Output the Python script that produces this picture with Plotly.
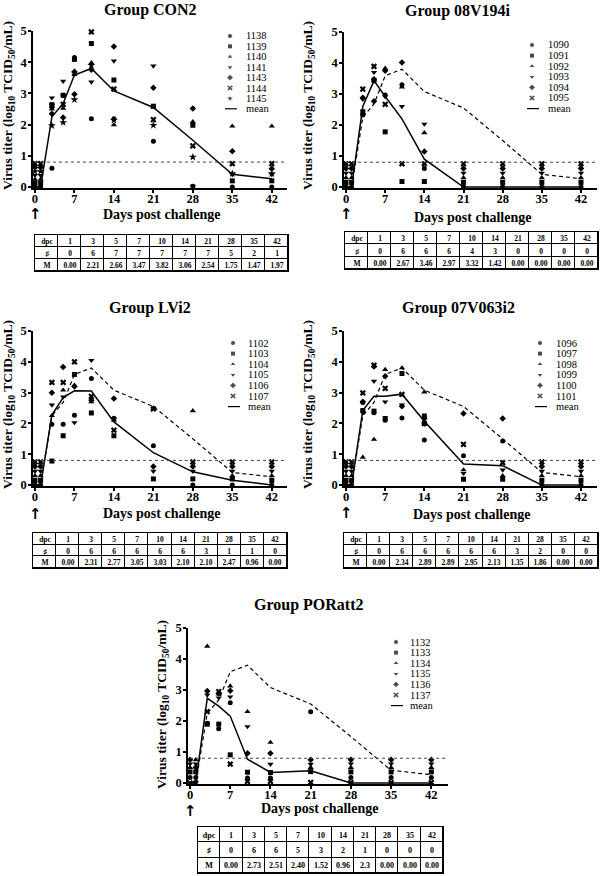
import plotly.graph_objects as go

W, H = 600, 876

# ---------------- data ----------------
DAYS = [0, 1, 3, 5, 7, 10, 14, 21, 28, 35, 42]
XTICKS = [0, 7, 14, 21, 28, 35, 42]
YTICKS = [0, 1, 2, 3, 4, 5]
LOD = 0.8
DPC = [1, 3, 5, 7, 10, 14, 21, 28, 35, 42]
ROW_LABELS = ["dpc", "\u266f", "M"]

con2_ids = ["1138", "1139", "1140", "1141", "1143", "1144", "1145"]
con2_vals = [
    [0, 0, 0.6, 2.94, 4.15, 2.19, 2.19, 1.47, 0.03, 0, 0],
    [0.125, 0.125, 2.64, 2.94, 4.09, 4.6, 3.43, 2.59, 1.98, 0.2, 0.2],
    [0.25, 0.25, 2.5, 2.52, 3.72, 3.98, 1.99, 2.56, 2.09, 1.95, 1.95],
    [0.375, 0.375, 2.86, 3.39, 3.66, 3.37, 4.04, 3.88, 0.03, 0.4, 0.4],
    [0.625, 0.625, 2.35, 2.23, 2.97, 3.76, 4.5, 3.18, 2.52, 1.15, 0.59],
    [0.75, 0.75, 2.6, 2.65, 3.64, 4.97, 3.14, 2.16, 1.32, 0.75, 0.75],
    [0.5, 0.5, 1.97, 2.07, 2.8, 3.9, 2.14, 1.98, 0.96, 0.43, 0.43],
]
con2_mean = [0, 0, 2.25, 2.68, 3.59, 3.80, 3.08, 2.55, 1.50, 0.41, 0.27]
con2_npos = [0, 6, 7, 7, 7, 7, 7, 5, 2, 1]
con2_M = ["0.00", "2.21", "2.66", "3.47", "3.82", "3.06", "2.54", "1.75", "1.47", "1.97"]

g08_ids = ["1090", "1091", "1092", "1093", "1094", "1095"]
g08_vals = [
    [0, 0, 2.32, 3.42, 2.97, 3.3, 0.6, 0, 0, 0, 0],
    [0.15, 0.15, 2.43, 3.45, 1.78, 0.18, 0.18, 0.15, 0.15, 0.15, 0.15],
    [0.3, 0.3, 2.37, 3.5, 3.83, 3.22, 1.75, 0.3, 0.3, 0.3, 0.3],
    [0.45, 0.45, 2.83, 3.7, 2.92, 2.6, 2.03, 0.45, 0.45, 0.45, 0.45],
    [0.6, 0.6, 2.88, 2.77, 3.75, 4.02, 1.15, 0.6, 0.6, 0.6, 0.6],
    [0.75, 0.75, 3.16, 3.89, 2.67, 0.75, 0.75, 0.75, 0.75, 0.75, 0.75],
]
g08_mean = [0, 0, 2.6, 3.43, 2.92, 2.2, 0.9, 0, 0, 0, 0]
g08_npos = [0, 6, 6, 6, 4, 3, 0, 0, 0, 0]
g08_M = ["0.00", "2.67", "3.46", "2.97", "3.32", "1.42", "0.00", "0.00", "0.00", "0.00"]

lvi_ids = ["1102", "1103", "1104", "1105", "1106", "1107"]
lvi_vals = [
    [0, 0, 1.97, 1.97, 2.27, 3.46, 2.17, 1.28, 0, 0, 0],
    [0.15, 0.15, 0.78, 1.6, 3.59, 2.34, 1.6, 0.2, 0.2, 0.2, 0.15],
    [0.3, 0.3, 2.25, 3.08, 3.24, 2.7, 2.1, 2.5, 2.41, 0.3, 0.3],
    [0.45, 0.45, 2.6, 2.86, 2.03, 4.05, 2.15, 0.45, 0.45, 0.45, 0.45],
    [0.6, 0.6, 3.0, 3.83, 3.2, 2.75, 2.81, 0.6, 0.6, 0.6, 0.6],
    [0.75, 0.75, 3.33, 3.33, 4.0, 2.88, 1.78, 2.47, 0.75, 0.75, 0.75],
]
lvi_mean = [0, 0, 2.27, 2.84, 3.06, 3.05, 2.05, 1.05, 0.43, 0.16, 0]
lvi_npos = [0, 6, 6, 6, 6, 6, 3, 1, 1, 0]
lvi_M = ["0.00", "2.31", "2.77", "3.05", "3.03", "2.10", "2.10", "2.47", "0.96", "0.00"]

g07_ids = ["1096", "1097", "1098", "1099", "1100", "1101"]
g07_vals = [
    [0, 0, 2.68, 2.35, 2.1, 2.18, 1.46, 0.95, 1.43, 0, 0],
    [0.15, 0.15, 2.42, 2.4, 2.16, 3.62, 2.24, 0.19, 0.19, 0.15, 0.15],
    [0.3, 0.3, 0.9, 1.48, 3.75, 3.8, 3.02, 0.49, 0.3, 0.3, 0.3],
    [0.45, 0.45, 2.35, 3.37, 2.7, 2.6, 1.97, 0.38, 0.49, 0.45, 0.45],
    [0.6, 0.6, 2.7, 3.85, 3.53, 2.56, 2.16, 2.32, 2.16, 0.6, 0.6],
    [0.75, 0.75, 2.99, 3.89, 3.14, 2.94, 2.0, 1.32, 0.73, 0.75, 0.75],
]
g07_mean = [0, 0, 2.43, 2.88, 2.88, 2.95, 2.07, 0.68, 0.63, 0, 0]
g07_npos = [0, 6, 6, 6, 6, 6, 3, 2, 0, 0]
g07_M = ["0.00", "2.34", "2.89", "2.89", "2.95", "2.13", "1.35", "1.86", "0.00", "0.00"]

por_ids = ["1132", "1133", "1134", "1135", "1136", "1137"]
por_vals = [
    [0.18, 0.18, 1.93, 1.75, 2.59, 0.16, 0.16, 2.3, 0.18, 0.18, 0.18],
    [0.36, 0.36, 1.9, 1.9, 0.91, 0.35, 0.34, 0.37, 0.36, 0.36, 0.36],
    [0.5, 0.75, 4.41, 2.87, 3.13, 2.3, 1.31, 0.5, 0.5, 0.5, 0.5],
    [0.62, 0.62, 2.84, 2.75, 2.78, 1.82, 0.61, 0.61, 0.62, 0.62, 0.62],
    [0.75, 0.5, 2.97, 2.9, 2.98, 0.96, 0.96, 0.75, 0.75, 0.75, 0.75],
    [0, 0, 2.3, 2.95, 0.61, 0.05, 0.05, 0.02, 0.02, 0.02, 0.02],
]
por_mean = [0, 0, 2.73, 2.48, 2.16, 0.77, 0.34, 0.40, 0, 0, 0]
por_npos = [0, 6, 6, 5, 3, 2, 1, 0, 0, 0]
por_M = ["0.00", "2.73", "2.51", "2.40", "1.52", "0.96", "2.3", "0.00", "0.00", "0.00"]

# ---------------- styles / layout ----------------
SYMBOLS = ["circle", "square", "triangle-up", "triangle-down", "diamond", "x", "star"]
SIZES = [5, 5, 5.5, 5.5, 5, 5.5, 6]
SERIF = "Liberation Serif"

# positions below are page pixels of the 600x876 window
panels = [
    dict(title="Group CON2", ids=con2_ids, vals=con2_vals, mean=con2_mean, npos=con2_npos, M=con2_M, ref=False,
         xdom=(33, 287), xr=(-0.35, 44.7), ydom=(31, 188), tpos=(150, 10), ytp=(9, 106), xtp=(161, 214),
         arrow=(35, 214), leg=(230, 244, 36, 10.4), tab=(35, 288, 235, 271, 7.5)),
    dict(title="Group 08V194i", ids=g08_ids, vals=g08_vals, mean=g08_mean, npos=g08_npos, M=g08_M, ref=True,
         xdom=(344, 597), xr=(-0.36, 44.86), ydom=(32, 188), tpos=(458, 11), ytp=(309, 106), xtp=(472, 217),
         arrow=(346, 214), leg=(532, 546, 45, 10.6), tab=(345, 598, 232, 269, 7.5)),
    dict(title="Group LVi2", ids=lvi_ids, vals=lvi_vals, mean=lvi_mean, npos=lvi_npos, M=lvi_M, ref=True,
         xdom=(33, 287), xr=(-0.35, 44.7), ydom=(331, 486), tpos=(150, 308), ytp=(9, 405), xtp=(161, 513),
         arrow=(35, 514), leg=(233, 246, 343, 10.6), tab=(33, 287, 533, 568, 7.5)),
    dict(title="Group 07V063i2", ids=g07_ids, vals=g07_vals, mean=g07_mean, npos=g07_npos, M=g07_M, ref=True,
         xdom=(344, 597), xr=(-0.36, 44.86), ydom=(331, 486), tpos=(458, 308), ytp=(309, 405), xtp=(471, 514),
         arrow=(346, 513), leg=(540, 554, 343, 10.6), tab=(344, 598, 533, 568, 7.5)),
    dict(title="Group PORatt2", ids=por_ids, vals=por_vals, mean=por_mean, npos=por_npos, M=por_M, ref=True,
         xdom=(188, 448), xr=(-0.35, 44.9), ydom=(628, 784), tpos=(308, 605), ytp=(162, 705), xtp=(319, 808),
         arrow=(190, 811), leg=(396, 408, 642, 10.6), tab=(198, 443, 827, 873, 8)),
]
YR = (-0.03, 5.0)


def px_x(px):
    return min(1.0, max(0.0, px / W))


def px_y(py):
    return min(1.0, max(0.0, 1 - py / H))


fig = go.Figure()
annotations = []
shapes = []
layout_axes = {}
NP = len(panels)

for i, p in enumerate(panels):
    k = "" if i == 0 else str(i + 1)
    xa, ya = "x" + k, "y" + k
    x0, x1 = p["xdom"]
    y0, y1 = p["ydom"]
    axis_common = dict(showgrid=False, zeroline=False, showline=True, linecolor="black", linewidth=1.5,
                       ticks="outside", ticklen=3, tickwidth=1.5, tickcolor="black", automargin=False,
                       tickfont=dict(family=SERIF, size=12.5, color="black", weight="bold"))
    layout_axes["xaxis" + k] = dict(domain=[px_x(x0), px_x(x1)], range=list(p["xr"]), anchor=ya,
                                    tickvals=XTICKS, ticktext=[str(t) for t in XTICKS],
                                    ticklabelstandoff=-5, **axis_common)
    layout_axes["yaxis" + k] = dict(domain=[px_y(y1), px_y(y0)], range=list(YR), anchor=xa,
                                    tickvals=YTICKS, ticklabelstandoff=-1, **axis_common)

    def dx(px, p=p):
        a, b = p["xdom"]
        r0, r1 = p["xr"]
        return r0 + (px - a) * (r1 - r0) / (b - a)

    def dy(py, p=p):
        a, b = p["ydom"]
        return YR[1] - (py - a) * (YR[1] - YR[0]) / (b - a)

    # detection limit
    shapes.append(dict(type="line", xref=xa, yref=ya, x0=0, x1=p["xr"][1], y0=LOD, y1=LOD,
                       line=dict(color="#444", width=1, dash="dot")))
    # reference mean (CON2)
    if p["ref"]:
        fig.add_trace(go.Scatter(x=DAYS, y=con2_mean, mode="lines", xaxis=xa, yaxis=ya,
                                 line=dict(color="black", width=1.2, dash="4px,3px"), showlegend=False,
                                 cliponaxis=False, hoverinfo="skip"))
    # group mean
    fig.add_trace(go.Scatter(x=DAYS, y=p["mean"], mode="lines", xaxis=xa, yaxis=ya,
                             line=dict(color="black", width=1.5), showlegend=False, cliponaxis=False))
    # individual animals
    for j, (aid, v) in enumerate(zip(p["ids"], p["vals"])):
        fig.add_trace(go.Scatter(x=DAYS, y=v, mode="markers", xaxis=xa, yaxis=ya, name=aid,
                                 marker=dict(symbol=SYMBOLS[j], size=SIZES[j], color="black",
                                             line=dict(width=0, color="black")),
                                 showlegend=False, cliponaxis=False))
    # manual legend
    mx, tx, ly0, step = p["leg"]
    n = len(p["ids"])
    fig.add_trace(go.Scatter(x=[dx(mx)] * n, y=[dy(ly0 + step * j) for j in range(n)], mode="markers",
                             xaxis=xa, yaxis=ya, showlegend=False, cliponaxis=False, hoverinfo="skip",
                             marker=dict(symbol=SYMBOLS[:n], size=SIZES[:n], color="black")))
    for j, aid in enumerate(p["ids"]):
        annotations.append(dict(x=px_x(tx), y=px_y(ly0 + step * j), xref="paper", yref="paper", text=aid,
                                showarrow=False, xanchor="left", yanchor="middle",
                                font=dict(family=SERIF, size=10.5, color="black")))
    ym = ly0 + step * n
    shapes.append(dict(type="line", xref="paper", yref="paper", x0=px_x(mx - 5), x1=px_x(mx + 7),
                       y0=px_y(ym), y1=px_y(ym), line=dict(color="black", width=1.2)))
    annotations.append(dict(x=px_x(tx), y=px_y(ym), xref="paper", yref="paper", text="mean",
                            showarrow=False, xanchor="left", yanchor="middle",
                            font=dict(family=SERIF, size=10.5, color="black")))
    # titles
    annotations.append(dict(x=px_x(p["tpos"][0]), y=px_y(p["tpos"][1]), xref="paper", yref="paper",
                            text=p["title"], showarrow=False, xanchor="center", yanchor="middle",
                            font=dict(family=SERIF, size=16, color="black", weight="bold")))
    annotations.append(dict(x=px_x(p["ytp"][0]), y=px_y(p["ytp"][1]), xref="paper", yref="paper",
                            text="Virus titer (log<sub>10</sub> TCID<sub>50</sub>/mL)", textangle=-90,
                            showarrow=False, xanchor="center", yanchor="middle",
                            font=dict(family=SERIF, size=13.5, color="black", weight="bold")))
    annotations.append(dict(x=px_x(p["xtp"][0]), y=px_y(p["xtp"][1]), xref="paper", yref="paper",
                            text="Days post challenge", showarrow=False, xanchor="center", yanchor="middle",
                            font=dict(family=SERIF, size=14, color="black", weight="bold")))
    # challenge arrow
    annotations.append(dict(x=px_x(p["arrow"][0]), y=px_y(p["arrow"][1]), xref="paper", yref="paper",
                            text="\u2191", showarrow=False, xanchor="center", yanchor="middle",
                            font=dict(family="DejaVu Sans", size=15, color="black", weight="bold")))

    # table (heatmap grid on its own hidden axes)
    kt = str(NP + i + 1)
    txa, tya = "x" + kt, "y" + kt
    tx0, tx1, ty0, ty1, fs = p["tab"]
    layout_axes["xaxis" + kt] = dict(domain=[px_x(tx0), px_x(tx1)], range=[-0.5, 10.5], anchor=tya,
                                     visible=False, fixedrange=True)
    layout_axes["yaxis" + kt] = dict(domain=[px_y(ty1), px_y(ty0)], range=[2.5, -0.5], anchor=txa,
                                     visible=False, fixedrange=True)
    header_row = [ROW_LABELS[0]] + [str(d) for d in DPC]
    npos_row = [ROW_LABELS[1]] + [str(v) for v in p["npos"]]
    m_row = [ROW_LABELS[2]] + list(p["M"])
    text = [header_row, npos_row, m_row]
    shapes.append(dict(type="rect", xref=txa + " domain", yref=tya + " domain", x0=0, x1=1, y0=0, y1=1,
                       fillcolor="black", line=dict(color="black", width=2), layer="below"))
    fig.add_trace(go.Heatmap(z=[[0] * 11 for _ in range(3)], x=list(range(11)), y=[0, 1, 2],
                             text=text, texttemplate="%{text}", xaxis=txa, yaxis=tya,
                             colorscale=[[0, "white"], [1, "white"]], zmin=0, zmax=1, showscale=False,
                             xgap=1, ygap=1, hoverinfo="skip",
                             textfont=dict(family=SERIF, size=fs, color="black", weight="bold")))

fig.update_layout(width=W, height=H, margin=dict(l=0, r=0, t=0, b=0, autoexpand=False), template="none",
                  plot_bgcolor="white", paper_bgcolor="white", showlegend=False,
                  annotations=annotations, shapes=shapes, **layout_axes)
fig.write_html("out.html", config={"displayModeBar": False},
               post_script="document.body.style.margin='0px';")
